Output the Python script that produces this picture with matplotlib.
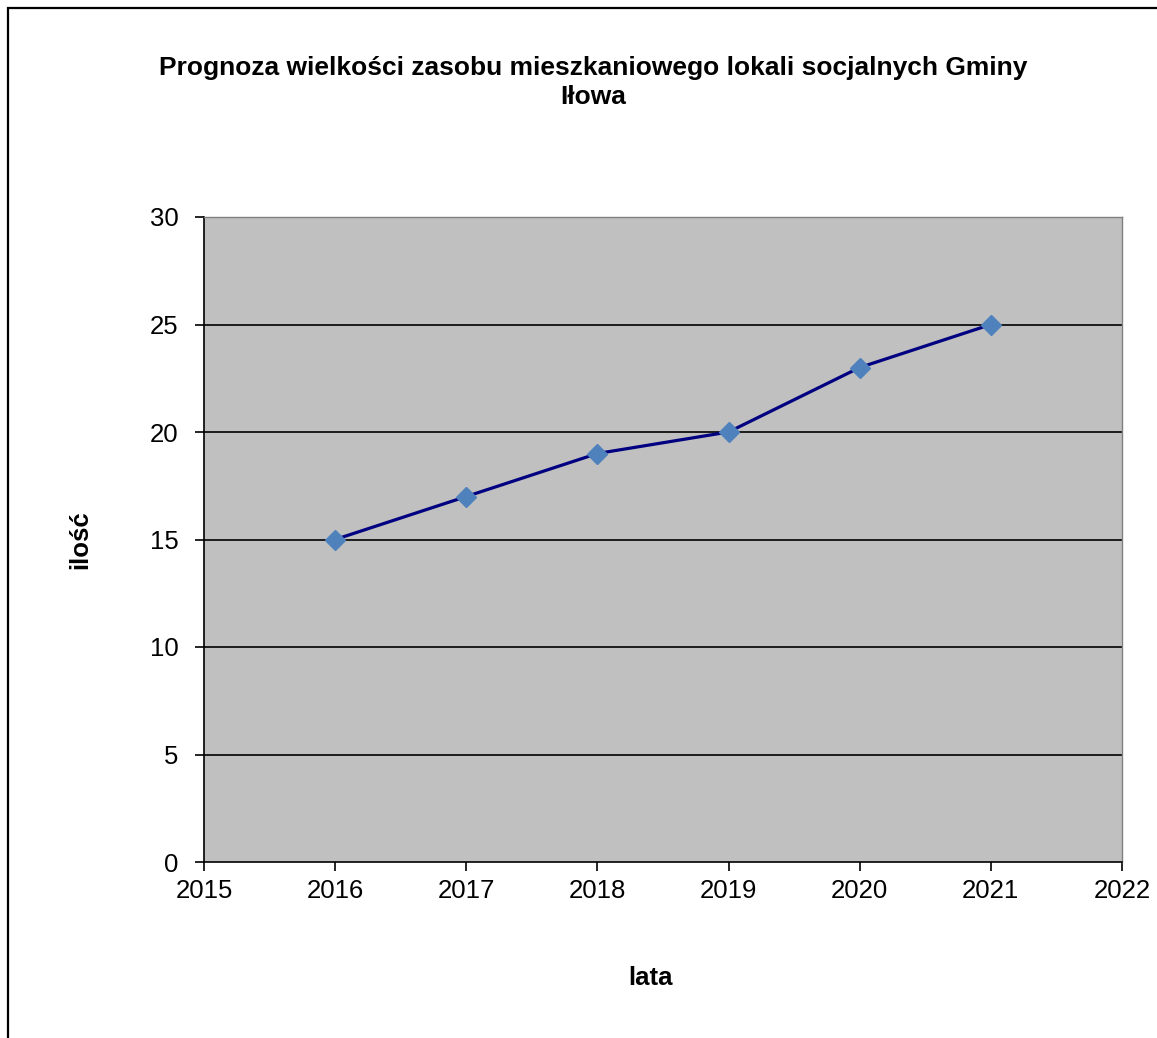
import matplotlib
matplotlib.use("Agg")
import matplotlib.pyplot as plt
from matplotlib.patches import Rectangle

plt.rcParams["font.family"] = ["Liberation Sans", "DejaVu Sans"]

years = [2016, 2017, 2018, 2019, 2020, 2021]
units = [15, 17, 19, 20, 23, 25]
x_ticks = [2015, 2016, 2017, 2018, 2019, 2020, 2021, 2022]
y_ticks = [0, 5, 10, 15, 20, 25, 30]

title_lines = ["Prognoza wielkości zasobu mieszkaniowego lokali socjalnych Gminy", "Iłowa"]

W, H = 1157, 1038
fig = plt.figure(figsize=(W / 100, H / 100), dpi=100)

# outer chart frame (only left/top edges fall inside the picture)
fig.patches.append(Rectangle((8 / W, -0.05), 1.2, 1 - 8 / H + 0.05,
                             transform=fig.transFigure, fill=False,
                             edgecolor="black", linewidth=1.6))

ax = fig.add_axes([204 / W, 1 - 862 / H, 918 / W, 645 / H])
ax.set_facecolor("#c0c0c0")

for y in y_ticks[1:-1]:
    ax.axhline(y, color="black", linewidth=1.2, zorder=1)

ax.plot(years, units, color="#000080", linewidth=2.3, zorder=3,
        marker="D", markersize=10, markerfacecolor="#4f81bd",
        markeredgecolor="#4f81bd")

ax.set_xlim(2015, 2022)
ax.set_ylim(0, 30)
ax.set_xticks(x_ticks)
ax.set_yticks(y_ticks)
ax.tick_params(axis="both", direction="out", length=6.5, width=1.2,
               labelsize=18.5)
ax.tick_params(axis="x", pad=6)
ax.tick_params(axis="y", pad=12)

for side in ["left", "bottom"]:
    ax.spines[side].set_color("black")
    ax.spines[side].set_linewidth(1.2)
for side in ["top", "right"]:
    ax.spines[side].set_color("#808080")
    ax.spines[side].set_linewidth(1.0)

fig.text(650 / W, 1 - 978 / H, "lata", ha="center", va="center",
         fontsize=18.5, fontweight="bold")
fig.text(80 / W, 1 - 540 / H, "ilość", ha="center", va="center",
         rotation=90, fontsize=18.5, fontweight="bold")

fig.text(593 / W, 1 - 75 / H, title_lines[0], ha="center", va="baseline",
         fontsize=19, fontweight="bold")
fig.text(593 / W, 1 - 104 / H, title_lines[1], ha="center", va="baseline",
         fontsize=19, fontweight="bold")

fig.savefig("out.png", dpi=100)
